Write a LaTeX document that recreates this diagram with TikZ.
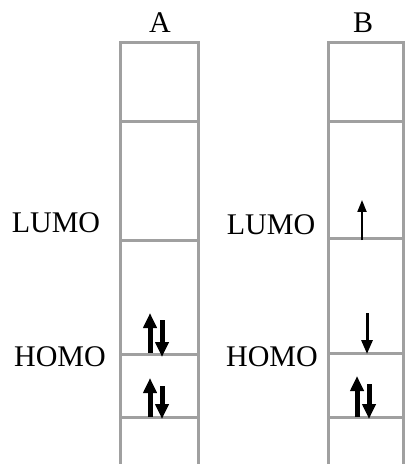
\documentclass[tikz,border=0pt]{standalone}
\usepackage{fontspec}
\setmainfont{Liberation Serif}
\usetikzlibrary{arrows.meta}
\definecolor{grigio}{RGB}{160,160,160}

\begin{document}
\begin{tikzpicture}[
		x=0.5pt, y=-0.5pt,
		% Stile per le linee delle colonne (grigie)
		level style/.style={line width=1.5pt, color=grigio},
		% Stile per le etichette di testo
		label style/.style={font=\fontsize{15}{18}\selectfont, inner sep=0pt},
		% Stile per le frecce degli elettroni (spessa, sottile)
		spin style/.style={line width=2.5pt, -{Triangle[width=6.5pt, length=7.5pt]}},
		thin spin style/.style={line width=1pt, -{Triangle[width=4.5pt, length=6pt]}},
		mid spin style/.style={line width=1.5pt, -{Triangle[width=5.5pt, length=7pt]}}
	]

	\useasboundingbox (0,0) rectangle (405,464);

	% =================================
	% COLONNA A
	% =================================
	\node[label style] (labA) at (160, 23) {A};
	\draw[level style] (120,464) -- (120,43) -- (198,43) -- (198,464);
	\draw[level style] (120,122) -- (198,122);
	\draw[level style] (120,240) -- (198,240);
	\draw[level style] (120,354) -- (198,354);
	\draw[level style] (120,417) -- (198,417);

	\node[label style] (lumoA) at (56, 223) {LUMO};
	\node[label style] (homoA) at (60, 357) {HOMO};

	% Elettroni accoppiati
	\draw[spin style] (150,353) -- (150,313);
	\draw[spin style] (162,320) -- (162,357);
	\draw[spin style] (150,417) -- (150,378);
	\draw[spin style] (162,386) -- (162,419);

	% =================================
	% COLONNA B
	% =================================
	\node[label style] (labB) at (363, 23) {B};
	\draw[level style] (328,464) -- (328,43) -- (403,43) -- (403,464);
	\draw[level style] (328,122) -- (403,122);
	\draw[level style] (328,238) -- (403,238);
	\draw[level style] (328,353) -- (403,353);
	\draw[level style] (328,417) -- (403,417);

	\node[label style] (lumoB) at (271, 225) {LUMO};
	\node[label style] (homoB) at (272, 357) {HOMO};

	% Elettroni spaiati e accoppiati
	\draw[thin spin style] (362,240) -- (362,200);
	\draw[mid spin style] (367,313) -- (367,354);
	\draw[spin style] (357,417) -- (357,376);
	\draw[spin style] (369,384) -- (369,419);

\end{tikzpicture}
\end{document}
